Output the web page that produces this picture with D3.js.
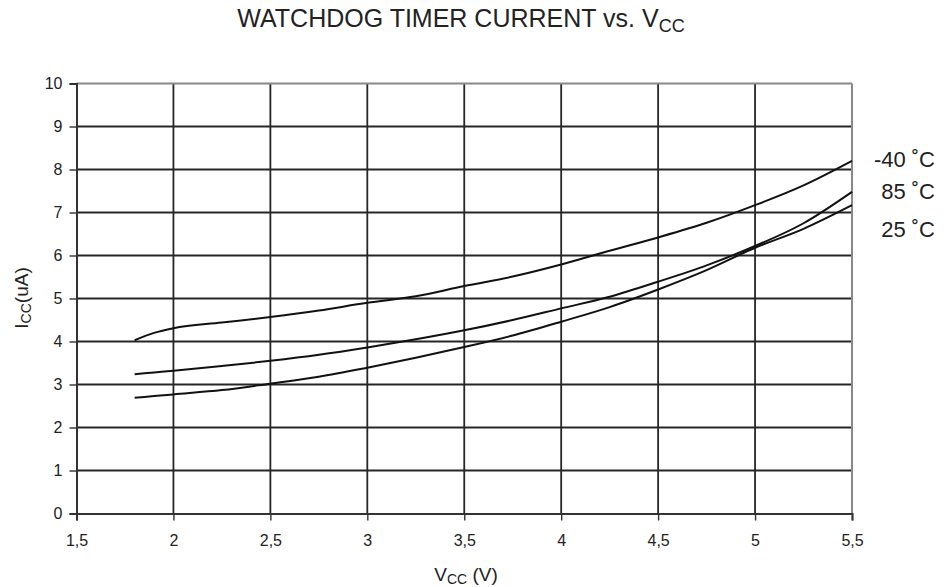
<!DOCTYPE html>
<html>
<head>
<meta charset="utf-8">
<script src="https://cdn.jsdelivr.net/npm/d3@7"></script>
<style>
  body { margin: 0; background: #fff; }
  svg { display: block; font-family: "Liberation Sans", Arial, sans-serif; }
</style>
</head>
<body>
<svg id="chart" width="947" height="587"></svg>
<script>
// ---- data ----
const vccValues = [1.8, 1.9, 2.0, 2.25, 2.5, 2.75, 3.0, 3.25, 3.5, 3.75, 4.0, 4.25, 4.5, 4.75, 5.0, 5.25, 5.5];
const iccMinus40 = [4.03, 4.20, 4.31, 4.44, 4.57, 4.72, 4.90, 5.05, 5.29, 5.51, 5.79, 6.11, 6.42, 6.76, 7.17, 7.63, 8.2];
const icc85      = [3.24, 3.28, 3.32, 3.43, 3.55, 3.69, 3.86, 4.05, 4.26, 4.50, 4.77, 5.04, 5.39, 5.77, 6.22, 6.75, 7.48];
const icc25      = [2.69, 2.73, 2.77, 2.87, 3.02, 3.18, 3.39, 3.62, 3.87, 4.14, 4.46, 4.80, 5.21, 5.66, 6.18, 6.62, 7.17];
const seriesLabels = ["-40 \u02DAC", "85 \u02DAC", "25 \u02DAC"];
const xTicks = [1.5, 2, 2.5, 3, 3.5, 4, 4.5, 5, 5.5];
const xTickLabels = ["1,5", "2", "2,5", "3", "3,5", "4", "4,5", "5", "5,5"];
const yTicks = [0, 1, 2, 3, 4, 5, 6, 7, 8, 9, 10];

const svg = d3.select("#chart");
const x = d3.scaleLinear().domain([1.5, 5.5]).range([76.5, 852]);
const y = d3.scaleLinear().domain([0, 10]).range([513.5, 83.5]);

// gridlines
const grid = svg.append("g");
grid.selectAll("line.h").data(yTicks.filter(d => d > 0 && d < 10)).join("line")
  .attr("x1", x(1.5)).attr("x2", x(5.5))
  .attr("y1", d => y(d)).attr("y2", d => y(d))
  .attr("stroke", "#262626").attr("stroke-width", 1.8);
grid.selectAll("line.v").data(xTicks.filter(d => d > 1.5 && d < 5.5)).join("line")
  .attr("y1", y(0)).attr("y2", y(10))
  .attr("x1", d => x(d)).attr("x2", d => x(d))
  .attr("stroke", "#262626").attr("stroke-width", 1.8);

// top & right border (gray)
svg.append("line").attr("x1", x(1.5)).attr("x2", x(5.5)).attr("y1", y(10)).attr("y2", y(10))
  .attr("stroke", "#888").attr("stroke-width", 2);
svg.append("line").attr("x1", x(5.5)).attr("x2", x(5.5)).attr("y1", y(10)).attr("y2", y(0))
  .attr("stroke", "#888").attr("stroke-width", 2);

// axes
const yAxis = d3.axisLeft(y).tickValues(yTicks).tickSize(7).tickPadding(7).tickFormat(d3.format("d"));
const gy = svg.append("g").attr("transform", `translate(${x(1.5)},0)`).call(yAxis);
const xAxis = d3.axisBottom(x).tickValues(xTicks).tickSize(7).tickPadding(14)
  .tickFormat((d, i) => xTickLabels[i]);
const gx = svg.append("g").attr("transform", `translate(0,${y(0)})`).call(xAxis);
[gx, gy].forEach(g => {
  g.select(".domain").attr("stroke", "#333").attr("stroke-width", 2);
  g.selectAll(".tick line").attr("stroke", "#333").attr("stroke-width", 1.4);
  g.selectAll(".tick text").attr("fill", "#222").attr("font-size", 16)
    .attr("font-family", "'Liberation Sans', Arial, sans-serif");
});

// curves
const line = d3.line().x(d => x(d[0])).y(d => y(d[1])).curve(d3.curveMonotoneX);
[iccMinus40, icc85, icc25].forEach(vals => {
  svg.append("path")
    .datum(vccValues.map((v, i) => [v, vals[i]]))
    .attr("d", line)
    .attr("fill", "none").attr("stroke", "#111").attr("stroke-width", 2);
});

// series labels
const labelY = [166.5, 198.5, 236.5];
seriesLabels.forEach((t, i) => {
  svg.append("text").attr("x", 935).attr("y", labelY[i])
    .attr("text-anchor", "end").attr("font-size", 22).attr("fill", "#222").text(t);
});

// title
const title = svg.append("text").attr("x", 461).attr("y", 27)
  .attr("text-anchor", "middle").attr("font-size", 25).attr("fill", "#222");
title.append("tspan").text("WATCHDOG TIMER CURRENT vs. V");
title.append("tspan").attr("font-size", 18).attr("dy", 5).text("CC");

// x axis title
const xt = svg.append("text").attr("x", 466).attr("y", 581)
  .attr("text-anchor", "middle").attr("font-size", 19).attr("fill", "#222");
xt.append("tspan").text("V");
xt.append("tspan").attr("font-size", 14).attr("dy", 3).text("CC");
xt.append("tspan").attr("dy", -3).text(" (V)");

// y axis title
const yt = svg.append("text").attr("transform", "translate(28,298) rotate(-90)")
  .attr("text-anchor", "middle").attr("font-size", 19).attr("fill", "#222");
yt.append("tspan").text("I");
yt.append("tspan").attr("font-size", 14).attr("dy", 3).text("CC");
yt.append("tspan").attr("dy", -3).text("(uA)");
</script>
</body>
</html>
